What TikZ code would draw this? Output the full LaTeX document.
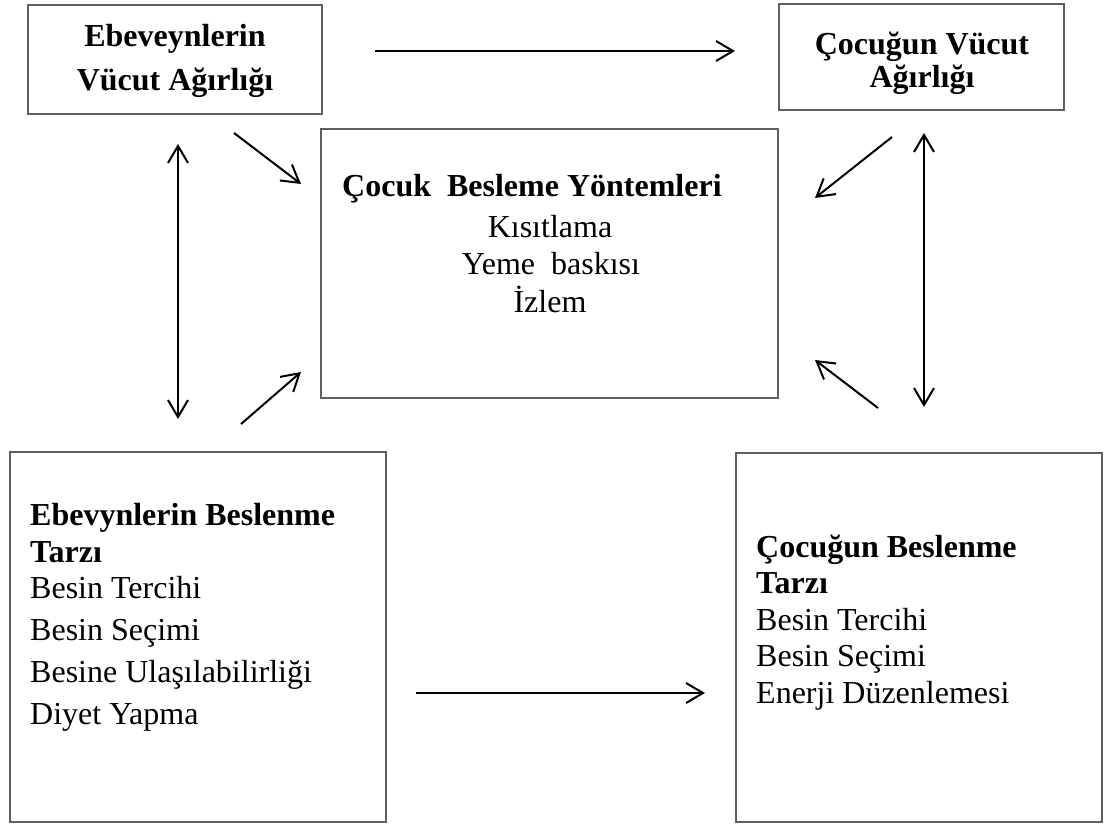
\documentclass[tikz,border=0pt]{standalone}
\usepackage{fontspec}
\setmainfont{Liberation Serif}
\usetikzlibrary{arrows.meta}
\definecolor{boxgray}{RGB}{95,95,95}
\begin{document}
\begin{tikzpicture}[x=1pt,y=-1pt,
  box/.style={draw=boxgray,line width=1.3pt,inner sep=0pt,outer sep=0pt,anchor=north west},
  txt/.style={inner sep=0pt,font=\fontsize{32pt}{37pt}\selectfont},
  txtb/.style={inner sep=0pt,font=\fontsize{32pt}{37pt}\selectfont\bfseries},
  barb/.tip={Straight Barb[length=17pt,width=20pt,line width=2pt]},
  arr/.style={line width=2pt,-barb},
  arrboth/.style={line width=2pt,barb-barb}]
\useasboundingbox (0,0) rectangle (1105,826);

% boxes
\node[box,minimum width=294pt,minimum height=109pt] (tl) at (28,5) {};
\node[box,minimum width=285pt,minimum height=106pt] (tr) at (779,4) {};
\node[box,minimum width=457pt,minimum height=269pt] (c) at (321,129) {};
\node[box,minimum width=376pt,minimum height=370pt] (bl) at (10,452) {};
\node[box,minimum width=366pt,minimum height=369pt] (br) at (736,453) {};

% top-left text
\node[txtb,anchor=base] (tlA) at (175,47) {Ebeveynlerin};
\node[txtb,anchor=base] (tlB) at (175,91) {Vücut Ağırlığı};

% top-right text
\node[txtb,anchor=base] (trA) at (922,55) {Çocuğun Vücut};
\node[txtb,anchor=base] (trB) at (922,88) {Ağırlığı};

% center text
\node[txtb,anchor=base west] (cA) at (342,197) {Çocuk~~Besleme Yöntemleri};
\node[txt,anchor=base] (cB) at (550,238) {Kısıtlama};
\node[txt,anchor=base] (cC) at (551,275) {Yeme~~baskısı};
\node[txt,anchor=base] (cD) at (550,312) {İzlem};

% bottom-left text
\node[txtb,anchor=base west] (blA) at (30,525) {Ebevynlerin Beslenme};
\node[txtb,anchor=base west] (blB) at (30,562) {Tarzı};
\node[txt,anchor=base west] (blC) at (30,598) {Besin Tercihi};
\node[txt,anchor=base west] (blD) at (30,640) {Besin Seçimi};
\node[txt,anchor=base west] (blE) at (30,682) {Besine Ulaşılabilirliği};
\node[txt,anchor=base west] (blF) at (30,724) {Diyet Yapma};

% bottom-right text
\node[txtb,anchor=base west] (brA) at (756,557) {Çocuğun Beslenme};
\node[txtb,anchor=base west] (brB) at (756,593) {Tarzı};
\node[txt,anchor=base west] (brC) at (756,630) {Besin Tercihi};
\node[txt,anchor=base west] (brD) at (756,666) {Besin Seçimi};
\node[txt,anchor=base west] (brE) at (756,703) {Enerji Düzenlemesi};

% arrow end points
\coordinate (h1s) at (375,51);  \coordinate (h1e) at (735,51);
\coordinate (d1s) at (234,133); \coordinate (d1e) at (301,184);
\coordinate (v1s) at (178,144); \coordinate (v1e) at (178,419);
\coordinate (d2s) at (241,424); \coordinate (d2e) at (301,372);
\coordinate (d3s) at (892,137); \coordinate (d3e) at (815,198);
\coordinate (v2s) at (924,133); \coordinate (v2e) at (924,407);
\coordinate (d4s) at (878,408); \coordinate (d4e) at (815,360);
\coordinate (h2s) at (416,693); \coordinate (h2e) at (705,693);

% arrows
\draw[arr] (h1s) -- (h1e);
\draw[arr] (d1s) -- (d1e);
\draw[arrboth] (v1s) -- (v1e);
\draw[arr] (d2s) -- (d2e);
\draw[arr] (d3s) -- (d3e);
\draw[arrboth] (v2s) -- (v2e);
\draw[arr] (d4s) -- (d4e);
\draw[arr] (h2s) -- (h2e);
\end{tikzpicture}
\end{document}
